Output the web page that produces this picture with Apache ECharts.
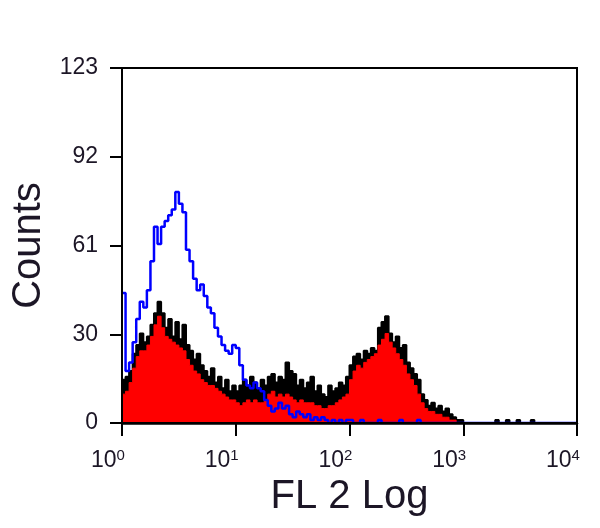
<!DOCTYPE html>
<html>
<head>
<meta charset="utf-8">
<script src="https://cdn.jsdelivr.net/npm/echarts@6/dist/echarts.min.js"></script>
<style>
html,body{margin:0;padding:0;background:#fff;}
#chart{width:600px;height:528px;}
</style>
</head>
<body>
<div id="chart"></div>
<script>
// Histogram channels: 32 channels per decade, 10^0 .. 10^4 (128 channels)
var CHANNELS_PER_DECADE = 32;
var xTickExponents = [0, 1, 2, 3, 4];
var yTickLabels = [0, 30, 61, 92, 123];

// Blue outline histogram (control)
var blueCounts = [
  45,18,21,28,36,42,40,46,56,68,
  62,68,70,72,74,80,76,73,60,56,
  50,46,48,44,40,38,33,30,27,25,
  24,27,26,20,15,13,12,14,12,11,
  8,6,4,5,7,5,6,3,2,4,
  3,2,3,1,2,1,2,1,0,1,
  0,1,0,1,1,0,0,1,0,0,
  0,0,1,0,0,0,0,0,1,0,
  0,0,0,1,0,0,0,0,0,0,
  0,0,0,0,0,0,0,0,0,0,
  0,0,0,0,0,0,0,0,0,0,
  0,0,0,0,0,0,0,0,0,0,
  0,0,0,0,0,0,0,0
];

// Black filled histogram (raw sample)
var blackCounts = [
  15,16,18,24,27,31,28,30,34,38,
  42,38,33,36,30,35,29,34,27,25,
  22,24,20,18,16,19,14,16,12,15,
  11,13,11,13,15,13,16,14,12,15,
  13,16,17,14,16,15,21,18,17,13,
  15,12,14,16,11,13,10,9,13,11,
  12,14,13,16,20,23,24,22,25,24,
  26,25,33,35,37,31,28,30,26,27,
  21,19,17,15,10,8,6,7,5,6,
  4,5,3,2,1,1,0,0,0,0,
  0,0,0,0,0,1,0,0,1,0,
  0,1,0,0,0,1,0,0,0,0,
  0,0,0,0,0,0,0,0
];

// Red filled histogram (smoothed sample)
var redCounts = [
  10,11,14,19,23,25,25,27,30,34,
  37,33,30,29,28,27,26,25,22,20,
  18,17,15,14,13,13,12,11,10,9,
  8,8,7,6,7,8,7,8,7,7,
  8,10,11,9,10,9,10,9,8,7,
  8,7,7,7,6,6,5,5,6,6,
  7,8,9,10,15,18,20,19,21,22,
  23,24,27,29,31,28,26,24,22,20,
  17,15,13,10,7,5,4,4,3,3,
  2,2,1,1,0,0,0,0,0,0,
  0,0,0,0,0,0,0,0,0,0,
  0,0,0,0,0,0,0,0,0,0,
  0,0,0,0,0,0,0,0
];

function toSteps(arr) {
  var d = arr.map(function (v, i) { return [i / CHANNELS_PER_DECADE, v]; });
  d.push([arr.length / CHANNELS_PER_DECADE, arr[arr.length - 1]]);
  return d;
}

var FONT = '"Liberation Sans", Arial, sans-serif';
var TXT = '#1c1626';
var chart = echarts.init(document.getElementById('chart'), null, {renderer: 'canvas'});
var yMax = yTickLabels[yTickLabels.length - 1];
chart.setOption({
  animation: false,
  backgroundColor: '#ffffff',
  grid: {left: 122, right: 23, top: 68, bottom: 105, show: true, borderColor: '#000', borderWidth: 2, backgroundColor: 'transparent', z: 10},
  xAxis: {
    type: 'value', z: 10, min: xTickExponents[0], max: xTickExponents[xTickExponents.length - 1], interval: 1,
    name: 'FL 2 Log', nameLocation: 'middle', nameGap: 44,
    nameTextStyle: {fontFamily: FONT, fontSize: 40, color: TXT, verticalAlign: 'top'},
    axisLine: {show: true, lineStyle: {color: '#000', width: 2.5}},
    axisTick: {show: true, length: 13, lineStyle: {color: '#000', width: 2}},
    splitLine: {show: false},
    axisLabel: {
      margin: 25, padding: [0, 28, 0, 0],
      formatter: function (v) { return '{b|10}{s|' + v + '}'; },
      rich: {
        b: {fontFamily: FONT, fontSize: 23, color: TXT, lineHeight: 24, verticalAlign: 'bottom'},
        s: {fontFamily: FONT, fontSize: 15, color: TXT, lineHeight: 24, verticalAlign: 'top'}
      }
    }
  },
  yAxis: {
    type: 'value', z: 10, min: 0, max: yMax, interval: yMax / (yTickLabels.length - 1),
    name: 'Counts', nameLocation: 'middle', nameGap: 68, nameRotate: 90,
    nameTextStyle: {fontFamily: FONT, fontSize: 40, color: TXT},
    axisLine: {show: true, lineStyle: {color: '#000', width: 2}},
    axisTick: {show: true, length: 12, lineStyle: {color: '#000', width: 2}},
    splitLine: {show: false},
    axisLabel: {
      margin: 24, fontFamily: FONT, fontSize: 23, color: TXT,
      formatter: function (v, idx) { return String(yTickLabels[idx]); }
    }
  },
  series: [
    {type: 'line', step: 'end', data: toSteps(blackCounts), symbol: 'none',
     lineStyle: {color: '#000', width: 2}, areaStyle: {color: '#000', opacity: 1}, z: 1},
    {type: 'line', step: 'end', data: toSteps(redCounts), symbol: 'none',
     lineStyle: {color: '#ff0000', width: 1}, areaStyle: {color: '#ff0000', opacity: 1}, z: 2},
    {type: 'line', step: 'end', data: toSteps(blueCounts), symbol: 'none',
     lineStyle: {color: '#0000ff', width: 2.5}, z: 3}
  ]
});
</script>
</body>
</html>
